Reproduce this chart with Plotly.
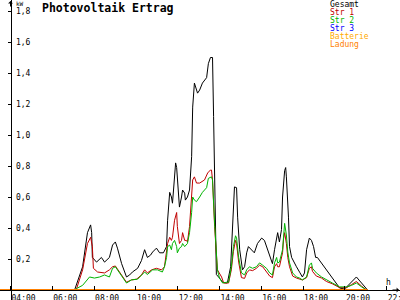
import plotly.graph_objects as go

# ---- data (time "HH:MM", kW) ----
gesamt = [("06:00",0),("07:04",0),("07:27",0.15),("07:41",0.37),("07:50",0.42),("07:53",0.37),("07:55",0.21),
          ("08:07",0.18),("08:21",0.21),("08:30",0.18),("08:44",0.21),("08:53",0.29),("09:01",0.31),("09:07",0.27),
          ("09:19",0.17),("09:33",0.084),("09:42",0.097),("09:50",0.116),("10:05",0.14),("10:16",0.19),("10:25",0.26),
          ("10:33",0.21),("10:42",0.225),("10:48",0.245),("10:59",0.27),("11:08",0.24),("11:19",0.24),("11:28",0.28),
          ("11:31",0.45),("11:37",0.63),("11:42",0.60),("11:45",0.56),("11:48",0.645),("11:54",0.82),("11:57",0.79),
          ("12:00",0.665),("12:05",0.535),("12:11",0.60),("12:14",0.645),("12:20",0.625),("12:22",0.58),("12:28",0.60),
          ("12:34",0.645),("12:40",0.86),("12:43",1.18),("12:48",1.335),("12:54",1.29),("12:57",1.27),("13:03",1.29),
          ("13:11",1.335),("13:23",1.37),("13:28",1.46),("13:34",1.50),("13:40",1.50),("13:43",1.12),("13:46",0.71),
          ("13:49",0.33),("13:51",0.10),("14:00",0.077),("14:09",0.05),("14:20",0.045),("14:23",0.05),("14:32",0.15),
          ("14:37",0.37),("14:40",0.58),("14:43",0.665),("14:49",0.66),("14:52",0.47),("14:58",0.26),("15:03",0.15),
          ("15:06",0.13),("15:12",0.15),("15:18",0.24),("15:23",0.28),("15:32",0.26),("15:40",0.24),("15:49",0.30),
          ("16:01",0.335),("16:09",0.32),("16:15",0.28),("16:24",0.21),("16:32",0.17),("16:38",0.26),("16:44",0.34),
          ("16:47",0.37),("16:52",0.31),("16:58",0.39),("17:01",0.60),("17:07",0.77),("17:10",0.79),("17:12",0.73),
          ("17:18",0.47),("17:21",0.28),("17:27",0.21),("17:35",0.17),("17:41",0.15),("17:50",0.115),("17:58",0.084),
          ("18:04",0.11),("18:10",0.26),("18:18",0.335),("18:24",0.32),("18:30",0.28),("18:36",0.21),("18:41",0.21),
          ("19:45",0.013),("19:59",0.006),("20:33",0.084),("21:05",0.0)]

str1 = [("06:00",0),("07:04",0),("07:10",0.01),("07:27",0.13),("07:41",0.30),("07:50",0.34),("07:55",0.28),
        ("07:58",0.14),("08:10",0.116),("08:30",0.11),("08:44",0.13),("08:53",0.15),("09:01",0.155),("09:13",0.116),
        ("09:33",0.05),("09:47",0.065),("10:02",0.07),("10:16",0.097),("10:25",0.13),("10:33",0.11),("10:45",0.13),
        ("10:59",0.14),("11:14",0.13),("11:22",0.15),("11:28",0.24),("11:31",0.30),("11:37",0.34),("11:42",0.32),
        ("11:45",0.34),("11:51",0.45),("11:57",0.50),("11:59",0.41),("12:05",0.30),("12:11",0.32),("12:14",0.37),
        ("12:20",0.32),("12:25",0.32),("12:28",0.31),("12:34",0.41),("12:40",0.58),("12:43",0.71),("12:48",0.73),
        ("12:54",0.69),("13:03",0.69),("13:17",0.71),("13:26",0.755),("13:34",0.774),("13:37",0.774),("13:40",0.71),
        ("13:46",0.41),("13:51",0.21),("13:54",0.13),("14:06",0.084),("14:12",0.045),("14:20",0.045),("14:26",0.045),
        ("14:34",0.13),("14:40",0.25),("14:46",0.32),("14:49",0.30),("14:55",0.18),("15:03",0.08),("15:12",0.075),
        ("15:18",0.11),("15:26",0.13),("15:35",0.125),("15:46",0.14),("15:55",0.16),("16:04",0.15),("16:15",0.12),
        ("16:24",0.09),("16:32",0.08),("16:38",0.15),("16:44",0.17),("16:47",0.15),("16:52",0.15),("17:01",0.24),
        ("17:04",0.33),("17:07",0.37),("17:12",0.30),("17:16",0.21),("17:21",0.15),("17:30",0.09),("17:41",0.077),
        ("17:50",0.07),("17:58",0.065),("18:10",0.08),("18:18",0.14),("18:24",0.15),("18:27",0.12),("18:38",0.09),
        ("18:53",0.077),("19:07",0.055),("19:24",0.04),("19:45",0.015),("20:05",0.015),("20:19",0.035),("20:33",0.055),
        ("20:48",0.025),("21:02",0)]

str2 = [("06:00",0),("07:04",0),("07:10",0.01),("07:27",0.03),("07:47",0.084),("08:01",0.077),("08:16",0.084),
        ("08:30",0.097),("08:44",0.084),("08:53",0.14),("09:01",0.15),("09:13",0.11),("09:33",0.045),("09:47",0.065),
        ("10:05",0.07),("10:25",0.116),("10:33",0.10),("10:48",0.13),("11:02",0.13),("11:16",0.116),("11:22",0.15),
        ("11:28",0.21),("11:31",0.28),("11:37",0.29),("11:42",0.26),("11:45",0.30),("11:51",0.32),("11:57",0.28),
        ("11:59",0.24),("12:05",0.27),("12:11",0.28),("12:14",0.30),("12:20",0.28),("12:28",0.30),("12:34",0.37),
        ("12:40",0.50),("12:43",0.60),("12:48",0.58),("12:54",0.57),("13:03",0.60),("13:11",0.63),("13:23",0.66),
        ("13:28",0.72),("13:37",0.73),("13:40",0.71),("13:46",0.43),("13:51",0.28),("13:54",0.13),("14:00",0.077),
        ("14:09",0.045),("14:20",0.05),("14:26",0.05),("14:34",0.15),("14:40",0.28),("14:46",0.35),("14:49",0.335),
        ("14:55",0.21),("15:03",0.11),("15:12",0.097),("15:18",0.13),("15:26",0.15),("15:35",0.14),("15:46",0.15),
        ("15:55",0.175),("16:04",0.16),("16:15",0.14),("16:24",0.11),("16:32",0.097),("16:38",0.175),("16:44",0.21),
        ("16:47",0.175),("16:52",0.18),("17:01",0.26),("17:04",0.37),("17:07",0.43),("17:12",0.355),("17:16",0.245),
        ("17:21",0.175),("17:30",0.11),("17:41",0.084),("17:50",0.077),("17:58",0.065),("18:10",0.084),("18:18",0.16),
        ("18:24",0.175),("18:27",0.14),("18:38",0.11),("18:53",0.084),("19:07",0.065),("19:24",0.045),("19:45",0.02),
        ("20:05",0.02),("20:19",0.03),("20:33",0.045),("20:48",0.02),("21:02",0)]

str3 = [("06:00",0),("21:05",0)]
batterie = [("06:00",0),("21:05",0)]
ladung = [("00:00",0),("21:05",0)]

series_names = ["Gesamt", "Str 1", "Str 2", "Str 3", "Batterie", "Ladung"]
series_colors = ["#000000", "#c00000", "#00b400", "#0000ff", "#ffaa00", "#ff8000"]

x_tick_vals = [4, 6, 8, 10, 12, 14, 16, 18, 20, 22]
x_tick_text = ["04:00", "06:00", "08:00", "10:00", "12:00", "14:00", "16:00", "18:00", "20:00", "22:00"]
y_tick_vals = [0.2, 0.4, 0.6, 0.8, 1.0, 1.2, 1.4, 1.6, 1.8]

# ---- figure ----
W, H = 400, 300
PX_H = 20.9     # pixels per hour
PX_KW = 155.0   # pixels per kW
X_AX = 10.5     # pixel column of the y axis (04:00)
Y_AX = 290.0    # pixel row of the x axis (0 kW)
X0 = 4 - X_AX / PX_H
X1 = 4 + (W - X_AX) / PX_H
Y0 = -(H - Y_AX) / PX_KW
Y1 = Y_AX / PX_KW


def hours(t):
    h, m = t.split(":")
    return int(h) + int(m) / 60.0


fig = go.Figure()
all_data = [gesamt, str1, str2, str3, batterie, ladung]
widths = [1, 1, 1, 1, 1, 2]
for name, data, color, w in zip(series_names, all_data, series_colors, widths):
    fig.add_trace(go.Scatter(
        x=[hours(t) for t, _ in data], y=[v for _, v in data],
        mode="lines", name=name, line=dict(color=color, width=w),
        hoverinfo="skip", showlegend=False, cliponaxis=True))

mono = "DejaVu Sans Mono"
fig.update_layout(
    template="none", width=W, height=H,
    margin=dict(l=0, r=0, t=0, b=0, pad=0),
    paper_bgcolor="white", plot_bgcolor="white",
    separators=",.", showlegend=False,
    xaxis=dict(range=[X0, X1], anchor="free", position=(H - Y_AX) / H,
               showline=True, linecolor="black", linewidth=1,
               tickmode="array", tickvals=x_tick_vals, ticktext=x_tick_text,
               ticks="inside", ticklen=4, tickcolor="black", tickwidth=1,
               ticklabelposition="outside right", ticklabeloverflow="allow",
               tickfont=dict(family=mono, size=8, color="black"),
               showgrid=False, zeroline=False, automargin=False, fixedrange=True),
    yaxis=dict(range=[Y0, Y1], anchor="free", position=X_AX / W,
               showline=True, linecolor="black", linewidth=1,
               tickmode="array", tickvals=y_tick_vals, tickformat=".1f",
               ticks="outside", ticklen=3, tickcolor="black", tickwidth=1,
               ticklabelposition="inside", ticklabelstandoff=3, ticklabeloverflow="allow",
               tickfont=dict(family=mono, size=8, color="black"),
               showgrid=False, zeroline=False, automargin=False, fixedrange=True),
    yaxis2=dict(range=[Y0, Y1], overlaying="y", anchor="free", position=X_AX / W,
                showline=False, tickmode="array", tickvals=y_tick_vals,
                ticks="inside", ticklen=2, tickcolor="black", tickwidth=1,
                showticklabels=False, showgrid=False, zeroline=False,
                automargin=False, fixedrange=True),
)

annotations = []
# title
annotations.append(dict(text="<b>Photovoltaik Ertrag</b>", x=40 / W, y=1 - 7.5 / H, xref="paper", yref="paper",
                        xanchor="left", yanchor="middle", showarrow=False,
                        font=dict(family=mono, size=11.5, color="black")))
# unit labels
annotations.append(dict(text="kW", x=14 / W, y=1 - 3 / H, xref="paper", yref="paper",
                        xanchor="left", yanchor="middle", showarrow=False,
                        font=dict(family=mono, size=6, color="black")))
annotations.append(dict(text="h", x=384 / W, y=1 - 282 / H, xref="paper", yref="paper",
                        xanchor="left", yanchor="middle", showarrow=False,
                        font=dict(family=mono, size=8, color="black")))
# legend
for i, (name, color) in enumerate(zip(series_names, series_colors)):
    annotations.append(dict(text=name, x=328 / W, y=1 - (4.5 + 8 * i) / H, xref="paper", yref="paper",
                            xanchor="left", yanchor="middle", showarrow=False,
                            font=dict(family=mono, size=8, color=color)))
# axis arrows
annotations.append(dict(text="", x=X_AX / W, y=1.0, xref="paper", yref="paper", showarrow=True,
                        ax=0, ay=8, arrowhead=1, arrowsize=0.8, arrowwidth=1, arrowcolor="black"))
annotations.append(dict(text="", x=399 / W, y=1 - Y_AX / H, xref="paper", yref="paper", showarrow=True,
                        ax=-8, ay=0, arrowhead=1, arrowsize=0.8, arrowwidth=1, arrowcolor="black"))
fig.update_layout(annotations=annotations)

fig.write_html("out.html", config={"displayModeBar": False, "staticPlot": True})
